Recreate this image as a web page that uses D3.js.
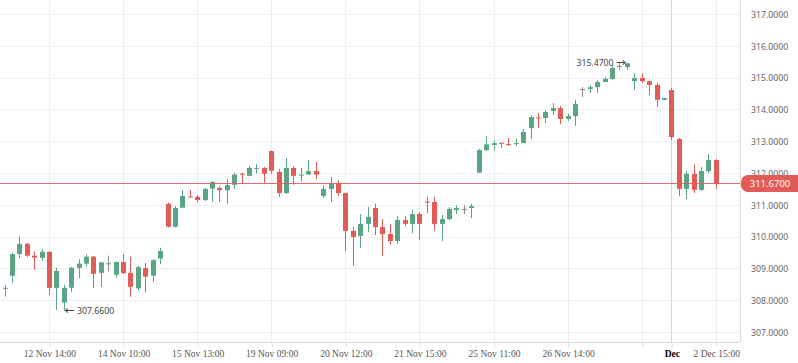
<!DOCTYPE html>
<html>
<head>
<meta charset="utf-8">
<script src="https://cdn.jsdelivr.net/npm/d3@7/dist/d3.min.js"></script>
<style>
  body { margin: 0; background: #fff; }
  svg { display: block; }
</style>
</head>
<body>
<svg id="chart" width="798" height="363"></svg>
<script>
// candle values, one entry per bar
const opens = [308.39,308.77,309.45,309.77,309.40,309.33,309.52,308.39,307.93,308.39,309.02,309.15,309.37,308.86,309.16,308.80,309.20,308.86,308.37,309.01,308.77,309.31,
  311.03,310.31,310.91,311.26,311.25,311.15,311.51,311.53,311.46,311.63,311.98,311.91,312.14,312.16,312.69,312.03,311.37,312.16,311.93,311.95,312.06,311.28,311.50,311.67,
  311.37,310.18,310.02,310.40,310.90,310.30,310.08,309.86,310.52,310.40,310.71,311.10,311.09,310.40,310.55,310.84,310.87,310.90,
  312.01,312.72,312.88,312.95,312.91,312.91,312.94,313.41,313.75,313.73,313.95,314.04,313.70,313.79,314.64,314.64,314.70,314.86,314.96,315.35,315.33,314.89,314.99,314.89,314.77,314.30,
  314.61,313.07,311.50,311.97,311.47,312.06,312.41];
const highs = [308.48,309.49,310.00,309.81,309.54,309.61,309.54,309.02,308.48,309.05,309.29,309.44,309.40,309.21,309.40,309.22,309.45,309.37,309.08,309.17,309.29,309.65,
  311.07,310.96,311.47,311.47,311.31,311.53,311.74,311.59,311.81,312.01,312.01,312.22,312.28,312.19,312.71,312.13,312.47,312.22,312.16,312.41,312.35,311.62,311.87,311.78,
  311.38,310.30,310.71,310.93,311.03,310.55,310.40,310.65,310.65,310.84,310.77,311.25,311.25,310.68,310.93,310.99,310.99,311.03,
  312.76,313.16,313.02,312.97,313.10,313.07,313.38,313.82,313.89,313.98,314.20,314.11,313.86,314.30,314.70,314.77,314.92,315.02,315.38,315.46,315.47,315.14,315.14,314.90,314.83,314.36,
  314.67,313.10,312.06,312.28,312.19,312.60,312.44];
const lows = [308.11,308.55,309.32,309.35,308.95,309.24,308.16,307.69,307.66,308.25,308.69,309.05,308.39,308.42,308.90,308.71,308.83,308.11,308.30,308.24,308.58,309.13,
  310.28,310.29,310.91,311.23,311.09,311.12,311.10,311.09,311.03,311.50,311.69,311.90,311.98,311.69,311.98,311.25,311.34,311.63,311.73,311.94,311.81,311.22,311.09,311.28,
  309.55,309.08,309.64,310.14,310.05,309.39,309.74,309.77,310.33,310.11,309.89,310.74,310.18,309.86,310.52,310.71,310.71,310.58,
  312.01,312.69,312.72,312.79,312.86,312.85,312.94,313.07,313.41,313.57,313.82,313.54,313.64,313.48,314.39,314.52,314.52,314.86,314.92,315.24,315.24,314.61,314.83,314.45,314.08,314.30,
  313.04,311.28,311.18,311.37,311.43,312.00,311.50];
const closes = [308.39,309.45,309.77,309.40,309.34,309.52,308.39,308.92,308.39,309.02,309.15,309.37,308.83,309.19,309.16,309.20,308.85,308.42,309.04,308.74,309.26,309.55,
  310.31,310.90,311.28,311.24,311.15,311.50,311.72,311.46,311.62,311.95,311.95,312.16,312.16,311.98,312.07,311.37,312.16,311.91,311.95,312.06,311.95,311.50,311.67,311.37,
  310.18,309.99,310.40,310.62,310.30,310.08,309.86,310.52,310.40,310.71,310.40,311.08,310.40,310.55,310.87,310.90,310.87,310.96,
  312.72,312.90,312.94,312.94,312.88,312.94,313.29,313.76,313.73,313.92,314.04,313.70,313.79,314.17,314.64,314.70,314.86,314.96,315.30,315.37,315.45,314.99,314.89,314.77,314.30,314.36,
  313.13,311.50,311.97,311.47,312.06,312.41,311.67];

// time axis: bar index of each tick and its label
const tickIndex = [6, 16, 26, 36, 46, 56, 66, 76, 86, 90, 96];
const tickLabels = ["12 Nov 14:00", "14 Nov 10:00", "15 Nov 13:00", "19 Nov 09:00", "20 Nov 12:00",
  "21 Nov 15:00", "25 Nov 11:00", "26 Nov 14:00", "", "Dec", "2 Dec 15:00"];
const monthIndex = 90;

const priceTicks = [307, 308, 309, 310, 311, 312, 313, 314, 315, 316, 317];
const lastPrice = 311.67;
const highIndex = 84, highValue = 315.47;
const lowIndex = 8, lowValue = 307.66;

const green = "#5aa584", red = "#e25b57", flat = "#8a8a8a";
const plotRight = 740, plotBottom = 342;

const data = opens.map((o, i) => ({ i, o, h: highs[i], l: lows[i], c: closes[i] }));

const xScale = d3.scaleLinear().domain([0, opens.length - 1]).range([4.5, 715.8]);
const yScale = d3.scaleLinear().domain([307, 317]).range([332, 14]);

const svg = d3.select("#chart");
const px = v => Math.round(v) + 0.5;
const fmt = d3.format(".4f");

// grid
svg.append("g").selectAll("line")
  .data(priceTicks).enter().append("line")
  .attr("x1", 0).attr("x2", plotRight)
  .attr("y1", d => px(yScale(d))).attr("y2", d => px(yScale(d)))
  .attr("stroke", "#eeeeee");

svg.append("g").selectAll("line")
  .data(tickIndex).enter().append("line")
  .attr("x1", d => px(xScale(d))).attr("x2", d => px(xScale(d)))
  .attr("y1", 0).attr("y2", plotBottom)
  .attr("stroke", d => d === monthIndex ? "#d6d6d6" : "#eeeeee");

// axes frame
svg.append("line").attr("x1", plotRight + 0.5).attr("x2", plotRight + 0.5)
  .attr("y1", 0).attr("y2", plotBottom).attr("stroke", "#dcdcdc");
svg.append("line").attr("x1", 0).attr("x2", plotRight)
  .attr("y1", plotBottom + 0.5).attr("y2", plotBottom + 0.5).attr("stroke", "#dcdcdc");

const xAxis = d3.axisBottom(xScale)
  .tickValues(tickIndex)
  .tickFormat((d, k) => tickLabels[k])
  .tickSize(5)
  .tickPadding(3);

const xAxisGroup = svg.append("g")
  .attr("transform", `translate(0.5, ${plotBottom})`)
  .call(xAxis);
xAxisGroup.select(".domain").remove();
xAxisGroup.selectAll(".tick line").attr("stroke", "#dcdcdc");
xAxisGroup.selectAll(".tick text")
  .attr("font-family", "'Liberation Serif', serif")
  .attr("font-size", "9.5px")
  .attr("fill", d => d === monthIndex ? "#000" : "#555")
  .attr("font-weight", d => d === monthIndex ? "bold" : "normal");

const yAxis = d3.axisRight(yScale)
  .tickValues(priceTicks)
  .tickFormat(fmt)
  .tickSize(0)
  .tickPadding(11);

const yAxisGroup = svg.append("g")
  .attr("transform", `translate(${plotRight}, 0.5)`)
  .call(yAxis);
yAxisGroup.select(".domain").remove();
yAxisGroup.selectAll(".tick text")
  .attr("font-family", "'Noto Sans', sans-serif")
  .attr("font-size", "8.7px")
  .attr("fill", "#666");

// candles
const candleColor = d => d.c > d.o ? green : d.c < d.o ? red : flat;

const candles = svg.append("g").selectAll("g")
  .data(data).enter().append("g");

candles.append("line")
  .attr("x1", d => px(xScale(d.i))).attr("x2", d => px(xScale(d.i)))
  .attr("y1", d => yScale(d.h)).attr("y2", d => yScale(d.l))
  .attr("stroke", candleColor);

candles.append("rect")
  .attr("x", d => Math.round(xScale(d.i)) - 2)
  .attr("width", 5)
  .attr("y", d => yScale(Math.max(d.o, d.c)))
  .attr("height", d => Math.max(1, yScale(Math.min(d.o, d.c)) - yScale(Math.max(d.o, d.c))))
  .attr("fill", candleColor);

// last price line and tag
const yLast = yScale(lastPrice);
svg.append("line").attr("x1", 0).attr("x2", plotRight)
  .attr("y1", px(yLast)).attr("y2", px(yLast))
  .attr("stroke", red).attr("stroke-opacity", 0.9);

svg.append("rect")
  .attr("x", plotRight + 1).attr("y", yLast - 8.5)
  .attr("width", 70).attr("height", 17)
  .attr("rx", 7)
  .attr("fill", red);

svg.append("text")
  .attr("x", 770).attr("y", yLast)
  .attr("dy", "0.35em")
  .attr("text-anchor", "middle")
  .attr("font-family", "'Noto Sans', sans-serif")
  .attr("font-size", "9.5px")
  .attr("fill", "#fff")
  .text(fmt(lastPrice));

// high / low markers
const hiText = svg.append("text")
  .attr("x", xScale(highIndex) - 1).attr("y", yScale(highValue))
  .attr("dy", "0.35em")
  .attr("text-anchor", "end")
  .attr("font-family", "'Noto Sans', sans-serif")
  .attr("font-size", "8.7px")
  .attr("fill", "#444");
hiText.append("tspan").text(fmt(highValue) + " ");
hiText.append("tspan").attr("font-family", "'DejaVu Sans', sans-serif").attr("font-size", "12px").text("\u2192");

const loText = svg.append("text")
  .attr("x", xScale(lowIndex) + 1).attr("y", yScale(lowValue))
  .attr("dy", "0.35em")
  .attr("font-family", "'Noto Sans', sans-serif")
  .attr("font-size", "8.7px")
  .attr("fill", "#444");
loText.append("tspan").attr("font-family", "'DejaVu Sans', sans-serif").attr("font-size", "12px").text("\u2190");
loText.append("tspan").text(" " + fmt(lowValue));
</script>
</body>
</html>
